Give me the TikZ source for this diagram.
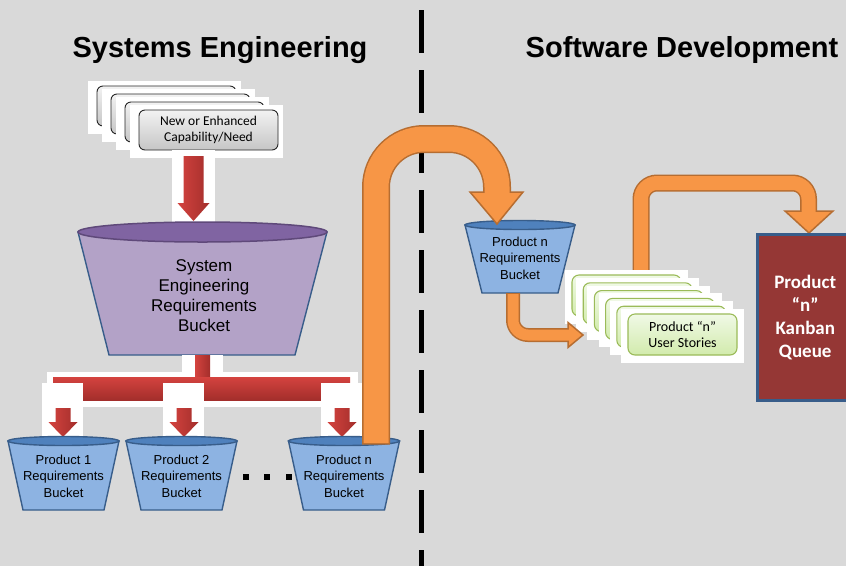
\documentclass[tikz,border=0pt]{standalone}
\usepackage{fontspec}
\setmainfont{Liberation Sans}
\newfontfamily\carlito{Carlito}

\definecolor{bggray}{HTML}{D9D9D9}
\definecolor{redA}{HTML}{D4433F}
\definecolor{redB}{HTML}{A32E2B}
\definecolor{purpleBody}{HTML}{B3A2C7}
\definecolor{purpleTop}{HTML}{8064A2}
\definecolor{purpleRim}{HTML}{5F497A}
\definecolor{blueBody}{HTML}{8DB3E2}
\definecolor{blueTop}{HTML}{4F81BD}
\definecolor{blueRim}{HTML}{385D8A}
\definecolor{orangeFill}{HTML}{F79646}
\definecolor{orangeLine}{HTML}{B66D31}
\definecolor{greenA}{HTML}{F0F9E6}
\definecolor{greenB}{HTML}{D2EBAC}
\definecolor{greenLine}{HTML}{9BBB59}
\definecolor{kanbanRed}{HTML}{953735}

\tikzset{
  title/.style={font=\bfseries\fontsize{29}{34}\selectfont, anchor=base},
  graycard/.style={draw=black!85, line width=0.9pt, rounded corners=6pt,
    top color=gray!10, bottom color=gray!45, minimum width=139pt,
    minimum height=40pt, inner sep=0pt, align=center,
    font=\carlito\fontsize{13.5}{16}\selectfont},
  greencard/.style={draw=greenLine, line width=1.1pt, rounded corners=7pt,
    top color=greenA, bottom color=greenB, minimum width=109pt,
    minimum height=41pt, inner sep=0pt, align=center,
    font=\carlito\fontsize{14}{16}\selectfont},
  redarrow/.style={left color=redA, right color=redB},
  bucketline/.style={draw=blueRim, line width=1.4pt},
  bigtext/.style={align=center, font=\fontsize{17}{20}\selectfont},
  smalltext/.style={align=center, font=\fontsize{13}{16.5}\selectfont},
  kanban/.style={fill=kanbanRed, draw=blueRim, line width=2.5pt,
    minimum width=96pt, minimum height=166pt, inner sep=0pt, text=white,
    align=center, font=\carlito\bfseries\fontsize{19}{23}\selectfont},
  oedge/.style={draw=orangeLine, line width=#1},
  ofill/.style={draw=orangeFill, line width=#1},
  ohead/.style={fill=orangeFill, draw=orangeLine, line width=1.5pt}
}

\begin{document}
\begin{tikzpicture}[x=1pt,y=-1pt]
\useasboundingbox (0,0) rectangle (846,566);
\clip (0,0) rectangle (846,566);
\fill[bggray] (0,0) rectangle (846,566);

\draw[line width=5pt, dash pattern=on 43pt off 17pt] (421,10) -- (421,566);

\node[title] (setitle) at (220,57) {Systems Engineering};
\node[title] (sdtitle) at (682,57) {Software Development};

% capability cards
\foreach \i in {0,...,2} {
  \fill[white] (88+14*\i,81+8*\i) rectangle ++(153,53);
  \node[graycard] (need\i) at (166.5+14*\i,106+8*\i) {};
}
\fill[white] (130,105) rectangle ++(153,53);
\node[graycard] (need3) at (208.5,130) {New or Enhanced\\Capability/Need};

\fill[white] (172,150) rectangle (215,229);
\shade[redarrow] (183.5,156) -- (203.5,156) -- (203.5,203) -- (209.5,203)
  -- (193.5,221) -- (177.5,203) -- (183.5,203) -- cycle;

% system engineering bucket
\draw[bucketline, fill=purpleBody] (78,232) -- (109,355) -- (295,355) -- (327,232) -- cycle;
\draw[draw=purpleRim, line width=1.5pt, fill=purpleTop] (202.5,232) ellipse [x radius=124.5, y radius=10];
\node[bigtext] (sebucket) at (204,296) {System\\Engineering\\Requirements\\Bucket};

\fill[white] (182,355) rectangle (223,372);
\fill[white] (47,372) rectangle (358,407);
\shade[redarrow] (195,355) rectangle (210,377);
\shade[top color=redA, bottom color=redB] (53,377) rectangle (350,400);

\foreach \cx in {63,184,342} {
  \fill[white] (\cx-21,383) rectangle (\cx+20,437);
  \shade[redarrow] (\cx-7.5,408) -- (\cx+7.5,408) -- (\cx+7.5,422) -- (\cx+14.5,422)
    -- (\cx,437) -- (\cx-14.5,422) -- (\cx-7.5,422) -- cycle;
}

% product buckets
\foreach \cx/\n in {63.5/1,181.5/2,344/n} {
  \draw[bucketline, fill=blueBody] (\cx-55.5,441) -- (\cx-40.5,510) -- (\cx+40.5,510) -- (\cx+55.5,441) -- cycle;
  \draw[bucketline, fill=blueTop] (\cx,441) ellipse [x radius=55.5, y radius=4.5];
  \node[smalltext] (bucket\n) at (\cx,476) {Product \n\\Requirements\\Bucket};
}

\fill (243,474) rectangle ++(6,6);
\fill (264,474) rectangle ++(6,6);
\fill (286,474) rectangle ++(6,6);

% software side bucket
\draw[bucketline, fill=blueBody] (465,225) -- (482,293) -- (558,293) -- (575,225) -- cycle;
\draw[bucketline, fill=blueTop] (520,225) ellipse [x radius=55, y radius=4.5];
\node[smalltext] (swbucket) at (520,258) {Product n\\Requirements\\Bucket};

\coordinate (bnout) at (376,443);
\coordinate (swin) at (497,224);
\draw[oedge=28pt, rounded corners=48pt] (376,444.5) -- (376,139) -- (497,139) -- (497,192);
\draw[ohead] (470,192) -- (523,192) -- (swin) -- cycle;
\draw[ofill=25pt, rounded corners=48pt] (bnout) -- (376,139) -- (497,139) -- (497,193.5);

\coordinate (storyout) at (641,272);
\coordinate (queuein) at (809,233);
\draw[oedge=17pt, rounded corners=16pt] (storyout) -- (641,183) -- (808.5,183) -- (808.5,211);
\draw[ohead] (785,211) -- (833,211) -- (queuein) -- cycle;
\draw[ofill=14pt, rounded corners=16pt] (storyout) -- (641,183) -- (808.5,183) -- (808.5,212.5);

% user stories
\foreach \i in {0,...,4} {
  \fill[white] (565+11.2*\i,270+7.8*\i) rectangle ++(123,54);
  \node[greencard] (story\i) at (626.5+11.2*\i,295.5+7.8*\i) {};
}
\fill[white] (621,309) rectangle ++(123,54);
\node[greencard] (story5) at (682.5,334.5) {Product “n”\\User Stories};

\coordinate (swout) at (513,293);
\coordinate (storyin) at (583,335);
\draw[oedge=14pt, rounded corners=15pt] (swout) -- (513,335) -- (568,335);
\draw[ohead] (568,322.5) -- (568,347.5) -- (storyin) -- cycle;
\draw[ofill=11pt, rounded corners=15pt] (513,294) -- (513,335) -- (569.5,335);

\node[kanban, anchor=north west] (queue) at (756,233) {Product\\“n”\\Kanban\\Queue};
\end{tikzpicture}
\end{document}
